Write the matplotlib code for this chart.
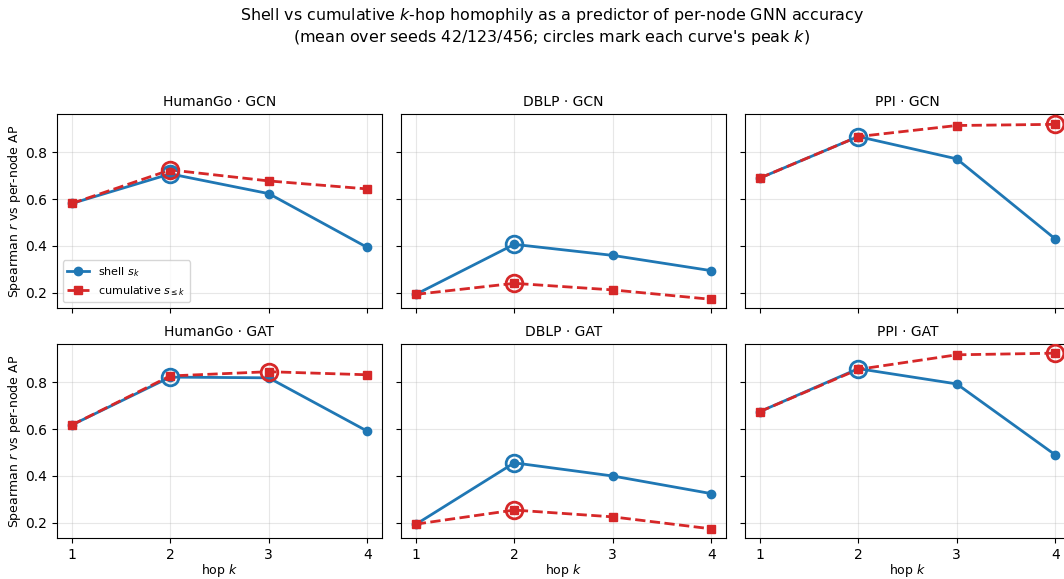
import numpy as np
import matplotlib
matplotlib.use("Agg")
import matplotlib.pyplot as plt

hops = [1, 2, 3, 4]
datasets = ["HumanGo", "DBLP", "PPI"]
models = ["GCN", "GAT"]

# shell s_k and cumulative s_{<=k} Spearman r, per (model, dataset)
shell_gcn_humango = [0.581, 0.707, 0.623, 0.394]
cum_gcn_humango = [0.581, 0.724, 0.677, 0.643]
shell_gcn_dblp = [0.194, 0.407, 0.360, 0.295]
cum_gcn_dblp = [0.194, 0.241, 0.213, 0.173]
shell_gcn_ppi = [0.689, 0.866, 0.771, 0.430]
cum_gcn_ppi = [0.689, 0.866, 0.913, 0.918]

shell_gat_humango = [0.617, 0.821, 0.818, 0.591]
cum_gat_humango = [0.617, 0.826, 0.844, 0.831]
shell_gat_dblp = [0.194, 0.456, 0.400, 0.325]
cum_gat_dblp = [0.195, 0.255, 0.226, 0.175]
shell_gat_ppi = [0.674, 0.857, 0.792, 0.490]
cum_gat_ppi = [0.674, 0.854, 0.916, 0.923]

shell = {
    ("GCN", "HumanGo"): shell_gcn_humango, ("GCN", "DBLP"): shell_gcn_dblp, ("GCN", "PPI"): shell_gcn_ppi,
    ("GAT", "HumanGo"): shell_gat_humango, ("GAT", "DBLP"): shell_gat_dblp, ("GAT", "PPI"): shell_gat_ppi,
}
cum = {
    ("GCN", "HumanGo"): cum_gcn_humango, ("GCN", "DBLP"): cum_gcn_dblp, ("GCN", "PPI"): cum_gcn_ppi,
    ("GAT", "HumanGo"): cum_gat_humango, ("GAT", "DBLP"): cum_gat_dblp, ("GAT", "PPI"): cum_gat_ppi,
}

C_SHELL = "#1f77b4"
C_CUM = "#d62728"

fig, axes = plt.subplots(2, 3, figsize=(10.64, 5.79), dpi=100, sharex=True, sharey=True)
fig.subplots_adjust(left=57/1064, right=1070/1064, top=1-114/579, bottom=1-538/579,
                    wspace=19/325, hspace=36/194)

for i, m in enumerate(models):
    for j, d in enumerate(datasets):
        ax = axes[i, j]
        s = shell[(m, d)]
        c = cum[(m, d)]
        ax.plot(hops, s, "-o", color=C_SHELL, lw=2, ms=6, label=r"shell $s_k$", zorder=3)
        ax.plot(hops, c, "--s", color=C_CUM, lw=2, ms=6, label=r"cumulative $s_{\leq k}$", zorder=3)
        ks = int(np.argmax(s))
        kc = int(np.argmax(c))
        ax.plot(hops[ks], s[ks], "o", mfc="none", mec=C_SHELL, ms=12, mew=2, zorder=4)
        ax.plot(hops[kc], c[kc], "o", mfc="none", mec=C_CUM, ms=12, mew=2, zorder=4)
        ax.set_title(f"{d} · {m}", fontsize=10)
        ax.grid(True, alpha=0.3)
        ax.set_xticks(hops)
        if j == 0:
            ax.set_ylabel(r"Spearman $r$ vs per-node AP", fontsize=9, labelpad=1.5)
        if i == 1:
            ax.set_xlabel(r"hop $k$", fontsize=9, labelpad=0.5)

axes[0, 0].set_ylim(0.136, 0.962)
axes[0, 0].set_yticks([0.2, 0.4, 0.6, 0.8])
axes[0, 0].legend(loc="lower left", fontsize=8)

fig.suptitle("Shell vs cumulative $k$-hop homophily as a predictor of per-node GNN accuracy\n"
             "(mean over seeds 42/123/456; circles mark each curve's peak $k$)",
             x=552/1064, y=0.99, fontsize=11.4)

fig.savefig("out.png", dpi=100)
